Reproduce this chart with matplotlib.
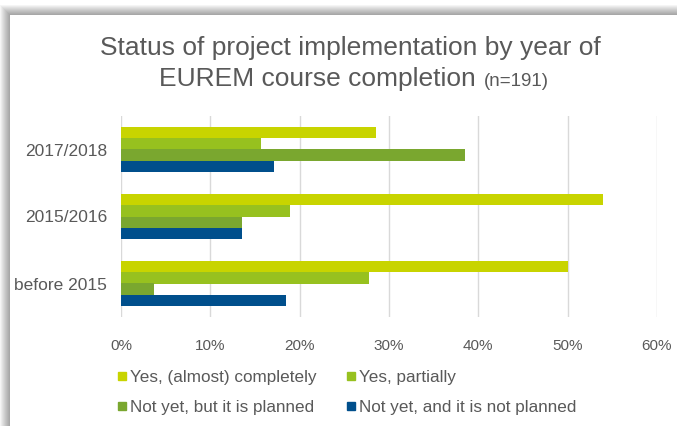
import matplotlib.pyplot as plt
import numpy as np
from matplotlib.patches import Rectangle
from matplotlib.lines import Line2D

plt.rcParams['font.family'] = ['Liberation Sans', 'DejaVu Sans']

categories = ['before 2015', '2015/2016', '2017/2018']
series_names = ['Yes, (almost) completely', 'Yes, partially',
                'Not yet, but it is planned', 'Not yet, and it is not planned']
completely = [50.0, 54.0, 28.6]
partially = [27.8, 18.9, 15.7]
planned = [3.7, 13.5, 38.5]
not_planned = [18.5, 13.5, 17.1]
colors = ['#c8d400', '#97c11f', '#7aa72f', '#004f8c']
values = [completely, partially, planned, not_planned]

W, H = 677, 426
fig = plt.figure(figsize=(W / 100, H / 100), dpi=100)
fig.patch.set_facecolor('white')

# shadow frame around the chart box
bg = fig.add_axes([0, 0, 1, 1])
bg.set_xlim(0, W)
bg.set_ylim(H, 0)
bg.axis('off')
for i in range(10):
    bg.add_patch(Rectangle((i, 5 + i), W, H, facecolor='#000000', alpha=0.04,
                           edgecolor='none'))
bg.add_patch(Rectangle((10, 15), W, H, facecolor='white', edgecolor='none'))

ax = fig.add_axes([121 / W, 1 - 317 / H, (657 - 121) / W, (317 - 116) / H])
ax.set_facecolor('none')

y = np.arange(len(categories))
bh = 0.67 / 4
for k, (vals, c) in enumerate(zip(values, colors)):
    ax.barh(y + (1.5 - k) * bh, np.array(vals) / 100, height=bh, color=c,
            label=series_names[k])

ax.set_xlim(0, 0.6)
ax.set_ylim(-0.5, 2.5)
ax.set_yticks(y)
ax.set_yticklabels(categories)
ticks = np.arange(0, 0.61, 0.1)
ax.set_xticks(ticks)
ax.set_xticklabels([f'{int(round(t * 100))}%' for t in ticks])
ax.grid(axis='x', color='#d9d9d9', linewidth=1)
ax.set_axisbelow(True)
for s in ax.spines.values():
    s.set_visible(False)
ax.tick_params(length=0, colors='#595959')
ax.tick_params(axis='y', pad=10, labelsize=12.5)
ax.tick_params(axis='x', pad=16, labelsize=11)

fig.text(350 / W, 1 - 48 / H, 'Status of project implementation by year of',
         ha='center', va='center', fontsize=19, color='#595959')
t1 = fig.text(0, 0, 'EUREM course completion ', fontsize=19, color='#595959',
              va='baseline')
t2 = fig.text(0, 0, '(n=191)', fontsize=13.5, color='#595959', va='baseline')
fig.canvas.draw()
r = fig.canvas.get_renderer()
w1 = t1.get_window_extent(r).width
w2 = t2.get_window_extent(r).width
x0 = 354 - (w1 + w2) / 2
t1.set_position((x0 / W, 1 - 86 / H))
t2.set_position(((x0 + w1) / W, 1 - 86 / H))

# legend filled row by row like the original
order = [0, 2, 1, 3]
handles = [Line2D([], [], marker='s', linestyle='none', markersize=6,
                  color=colors[i]) for i in order]
labels = [series_names[i] for i in order]
fig.legend(handles, labels, ncol=2, loc='upper left',
           bbox_to_anchor=(101 / W, 1 - 355 / H), frameon=False,
           fontsize=12.3, labelcolor='#595959', handlelength=0.6,
           handletextpad=0.2, columnspacing=1.7, labelspacing=0.85)

fig.savefig('out.png', dpi=100)
